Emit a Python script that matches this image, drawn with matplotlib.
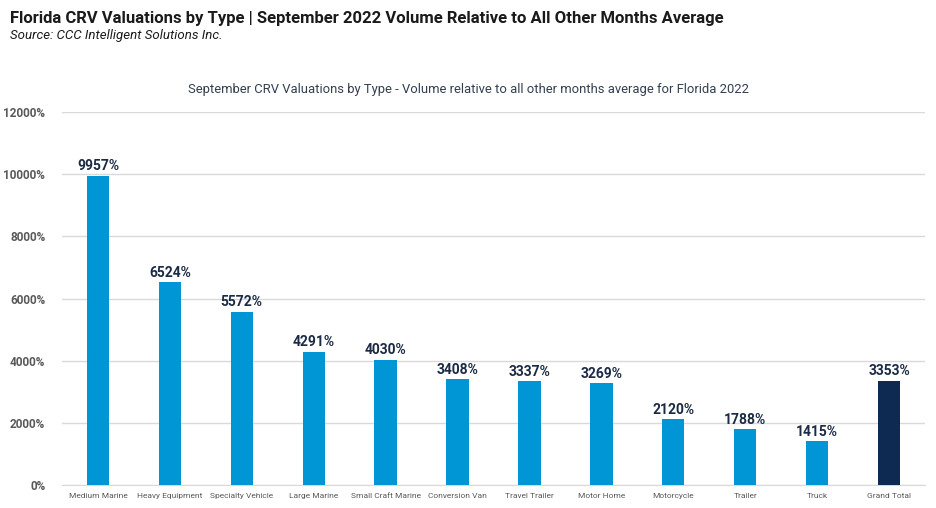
import matplotlib.pyplot as plt

plt.rcParams['font.family'] = ['Roboto', 'DejaVu Sans']

categories = ["Medium Marine", "Heavy Equipment", "Specialty Vehicle", "Large Marine",
              "Small Craft Marine", "Conversion Van", "Travel Trailer", "Motor Home",
              "Motorcycle", "Trailer", "Truck", "Grand Total"]
values = [9957, 6524, 5572, 4291, 4030, 3408, 3337, 3269, 2120, 1788, 1415, 3353]
yticks = [0, 2000, 4000, 6000, 8000, 10000, 12000]

blue = "#0096D6"
navy = "#0F2A52"
colors = [blue] * (len(values) - 1) + [navy]

fig = plt.figure(figsize=(9.36, 5.08), dpi=100)
ax = fig.add_axes([62 / 936, (508 - 485) / 508, (925 - 62) / 936, (485 - 112) / 508])

x = range(len(categories))
ax.bar(x, values, width=0.31, color=colors, zorder=3)
for i, v in zip(x, values):
    ax.text(i, v + 80, f"{v}%", ha="center", va="bottom", fontsize=10,
            fontweight="bold", color="#1C2B45")

ax.set_xlim(-0.5, len(categories) - 0.5)
ax.set_ylim(0, 12000)
ax.set_yticks(yticks)
ax.set_yticklabels([f"{t}%" for t in yticks], fontsize=8.5, fontweight="bold", color="#595959")
ax.set_xticks(list(x))
ax.set_xticklabels(categories, fontsize=6, color="#595959")
ax.tick_params(axis="both", length=0)
ax.tick_params(axis="x", pad=6)
ax.tick_params(axis="y", pad=12)
ax.grid(axis="y", color="#D9D9D9", linewidth=1, zorder=0)
for s in ["top", "right", "left"]:
    ax.spines[s].set_visible(False)
ax.spines["bottom"].set_color("#D9D9D9")

fig.text(10 / 936, 1 - 18 / 508,
         "Florida CRV Valuations by Type | September 2022 Volume Relative to All Other Months Average",
         fontsize=12, fontweight="bold", color="#1A1A1A", va="center")
fig.text(10 / 936, 1 - 36 / 508, "Source: CCC Intelligent Solutions Inc.",
         fontsize=9.5, style="italic", color="#1A1A1A", va="center")
fig.text(469 / 936, 1 - 90 / 508,
         "September CRV Valuations by Type - Volume relative to all other months average for Florida 2022",
         fontsize=9.4, color="#333F50", ha="center", va="center")

fig.savefig("out.png", dpi=100)
